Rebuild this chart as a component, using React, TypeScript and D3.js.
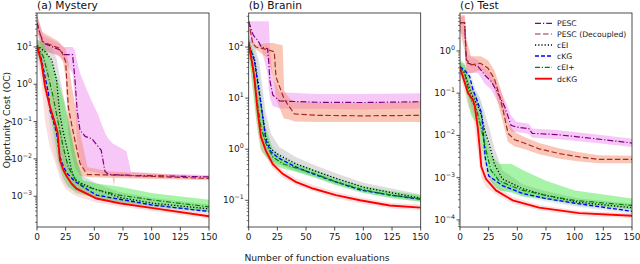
import React from "react";
import * as d3 from "d3";

// each row: [evaluations, median OC, lower band, upper band]
type Row = [number, number, number, number];

const methodNames = ["PESC", "PESC (Decoupled)", "cEI", "cKG", "cEI+", "dcKG"];
const panelTitles = ["(a) Mystery", "(b) Branin", "(c) Test"];
const evalTicks = [0, 25, 50, 75, 100, 125, 150];
const yExponents = [
  [-3, -2, -1, 0, 1],
  [-1, 0, 1, 2],
  [-4, -3, -2, -1, 0],
];
const yDomains: [number, number][] = [
  [1.5e-4, 81],
  [0.03, 464],
  [6.8e-5, 7.9],
];

// (a) Mystery
const mysteryPesc: Row[] = [
  [0, 44, 30, 70], [3, 21, 12, 35], [6, 12.5, 8, 20], [20, 8.3, 5.5, 12],
  [24, 6.2, 4, 10], [31, 6.2, 2, 10], [33, 1.5, 0.4, 8], [35, 0.2, 0.03, 4],
  [37.5, 0.059, 0.008, 2], [42, 0.04, 0.005, 0.9], [47.7, 0.035, 0.0045, 0.35],
  [53.5, 0.021, 0.0042, 0.15], [56, 0.017, 0.004, 0.09], [59.3, 0.0046, 0.0037, 0.05],
  [62, 0.0039, 0.0035, 0.035], [66, 0.0038, 0.0034, 0.026], [78, 0.0037, 0.0033, 0.016],
  [82, 0.0036, 0.0032, 0.0045], [110, 0.0035, 0.0031, 0.004], [150, 0.0033, 0.0029, 0.0037],
];
const mysteryPescD: Row[] = [
  [0, 44, 25, 75], [4.6, 14, 8, 25], [19, 9.3, 6, 14], [22.7, 6.2, 4, 10],
  [25, 4, 1.5, 9], [27.3, 0.25, 0.05, 4], [30, 0.09, 0.015, 1], [33, 0.032, 0.006, 0.3],
  [37.5, 0.0076, 0.0035, 0.05], [42, 0.0046, 0.0034, 0.012], [44, 0.0038, 0.0033, 0.006],
  [66, 0.0037, 0.0031, 0.0045], [67, 0.0037, 0.0018, 0.0045], [68, 0.0037, 0.0031, 0.0045],
  [150, 0.003, 0.0027, 0.0034],
];
const mysteryCei: Row[] = [
  [0, 11, 7, 16], [7, 7.4, 3.5, 12], [12.8, 4.5, 1.2, 9], [17, 1.3, 0.2, 5],
  [20, 0.15, 0.02, 1.5], [23, 0.05, 0.006, 0.5], [27.3, 0.014, 0.003, 0.12],
  [30, 0.005, 0.0018, 0.04], [33, 0.0028, 0.0015, 0.012], [40, 0.0021, 0.0012, 0.0035],
  [52, 0.0015, 0.001, 0.0022], [72, 0.00093, 0.0007, 0.0013], [101, 0.00065, 0.0005, 0.0009],
  [150, 0.00046, 0.00037, 0.0006],
];
const mysteryCkg: Row[] = [
  [0, 11, 7, 16], [4, 4.5, 2, 9], [7, 1.6, 0.6, 4], [10, 0.57, 0.15, 2],
  [11.3, 0.2, 0.06, 1], [14, 0.11, 0.02, 0.5], [17, 0.05, 0.008, 0.2],
  [20, 0.0115, 0.004, 0.05], [23, 0.0063, 0.0025, 0.02], [26, 0.0042, 0.0018, 0.01],
  [33, 0.0025, 0.0014, 0.004], [40, 0.0018, 0.0012, 0.0026], [52, 0.00107, 0.0008, 0.0014],
  [72, 0.00083, 0.00068, 0.001], [101, 0.00058, 0.00049, 0.0007], [150, 0.00039, 0.00034, 0.00046],
];
const mysteryCeiPlus: Row[] = [
  [0, 11, 7, 16], [5.5, 5.5, 2, 12], [10, 1.6, 0.3, 6], [14, 0.47, 0.06, 3],
  [18.6, 0.091, 0.008, 1.2], [23, 0.02, 0.003, 0.4], [27.3, 0.006, 0.0018, 0.1],
  [34.5, 0.0025, 0.0012, 0.01], [40, 0.0019, 0.0011, 0.0027], [52, 0.0015, 0.0009, 0.0022],
  [72, 0.00107, 0.0007, 0.0018], [101, 0.00079, 0.00055, 0.0012], [150, 0.00052, 0.00039, 0.0008],
];
const mysteryDckg: Row[] = [
  [0, 11, 6, 18], [4, 3.7, 1, 10], [7, 0.87, 0.1, 5], [11.3, 0.25, 0.02, 2],
  [15.7, 0.091, 0.008, 0.8], [18, 0.05, 0.005, 0.4], [20, 0.0093, 0.003, 0.1],
  [23, 0.005, 0.002, 0.03], [26, 0.0034, 0.0015, 0.01], [30, 0.0022, 0.0012, 0.004],
  [34.5, 0.0016, 0.001, 0.0024], [52, 0.00087, 0.00068, 0.0011], [72, 0.00065, 0.00053, 0.00078],
  [101, 0.00048, 0.0004, 0.00056], [150, 0.00029, 0.00025, 0.00034],
];

// (b) Branin
const braninPesc: Row[] = [
  [0, 316, 120, 320], [4, 170, 118, 320], [8, 135, 115, 320], [11, 100, 95, 320],
  [16.5, 93, 30, 320], [17.5, 50, 15, 320], [18.5, 22, 10, 100], [21, 11.5, 7, 25],
  [27, 8.8, 6.3, 13], [60, 8.3, 6.2, 12], [100, 8.2, 6, 12], [150, 8.5, 6.3, 12.5],
];
const braninPescD: Row[] = [
  [0, 316, 260, 330], [3.5, 118, 105, 135], [6.4, 100, 90, 112], [17, 88, 60, 120],
  [22.3, 81, 20, 120], [23.8, 26, 10, 115], [29.6, 11.5, 4.5, 110], [31, 9.5, 4, 14],
  [35.4, 6.8, 3.8, 10], [39.8, 4.9, 3.5, 8.5], [60, 4.6, 3.4, 8], [100, 4.5, 3.4, 8],
  [150, 4.6, 3.4, 8.5],
];
const braninCei: Row[] = [
  [0, 110, 80, 150], [5, 60, 30, 110], [9.3, 14, 5, 50], [12.2, 4.6, 1.5, 15],
  [15, 1.7, 0.8, 5], [19.4, 1.0, 0.6, 2], [26.7, 0.76, 0.5, 1.1], [41, 0.52, 0.38, 0.7],
  [56, 0.39, 0.3, 0.5], [76, 0.27, 0.21, 0.34], [100, 0.18, 0.15, 0.22],
  [125, 0.14, 0.12, 0.17], [150, 0.11, 0.095, 0.13],
];
const braninCkg: Row[] = [
  [0, 110, 80, 150], [4.9, 56, 30, 100], [9.3, 12.3, 5, 30], [12.2, 4.3, 1.8, 10],
  [15, 1.5, 0.8, 3], [19.4, 0.89, 0.6, 1.3], [26.7, 0.66, 0.5, 0.85], [41, 0.45, 0.37, 0.55],
  [56, 0.33, 0.28, 0.4], [76, 0.23, 0.2, 0.27], [97, 0.16, 0.14, 0.18],
  [125, 0.125, 0.11, 0.14], [150, 0.105, 0.095, 0.115],
];
const braninCeiPlus: Row[] = [
  [0, 110, 70, 150], [3.5, 40, 15, 90], [6.4, 12.3, 4, 40], [10.7, 2.7, 1.0, 8],
  [15, 1.3, 0.7, 2.5], [21, 0.71, 0.5, 1.0], [29.6, 0.52, 0.42, 0.65], [41, 0.43, 0.36, 0.52],
  [56, 0.34, 0.29, 0.4], [76, 0.23, 0.2, 0.27], [100, 0.16, 0.14, 0.19],
  [125, 0.125, 0.11, 0.15], [150, 0.107, 0.094, 0.125],
];
const braninDckg: Row[] = [
  [0, 126, 90, 170], [4.9, 26, 10, 60], [7.8, 5.6, 2, 15], [10.7, 1.74, 0.9, 3.5],
  [15, 0.93, 0.7, 1.3], [21, 0.51, 0.42, 0.62], [29.6, 0.33, 0.28, 0.39], [41, 0.23, 0.2, 0.27],
  [56, 0.17, 0.15, 0.2], [76, 0.126, 0.11, 0.145], [97, 0.1, 0.088, 0.115],
  [123, 0.079, 0.07, 0.09], [150, 0.072, 0.063, 0.083],
];

// (c) Test
const testPesc: Row[] = [
  [0, 4.7, 3, 6], [4, 4.7, 2, 7], [5.5, 0.62, 0.3, 2], [7, 0.51, 0.3, 0.8],
  [15.7, 0.43, 0.3, 0.6], [21.5, 0.27, 0.17, 0.4], [27.3, 0.19, 0.12, 0.28],
  [33, 0.1, 0.06, 0.15], [39, 0.048, 0.03, 0.07], [44.5, 0.0174, 0.012, 0.03],
  [49, 0.0158, 0.012, 0.021], [60, 0.0145, 0.011, 0.019], [63, 0.0112, 0.0088, 0.0145],
  [84, 0.0105, 0.0082, 0.0135], [119, 0.0083, 0.0066, 0.0105], [150, 0.0066, 0.0053, 0.0083],
];
const testPescD: Row[] = [
  [0, 4.7, 3, 7], [4, 4.7, 1, 7], [5.5, 0.62, 0.3, 2], [9.6, 0.47, 0.3, 0.75],
  [18, 0.51, 0.35, 0.75], [24.4, 0.39, 0.25, 0.6], [30, 0.22, 0.13, 0.35],
  [34.6, 0.083, 0.04, 0.15], [37.5, 0.04, 0.02, 0.08], [41.9, 0.0112, 0.007, 0.02],
  [47.7, 0.0079, 0.0055, 0.012], [56, 0.0066, 0.0048, 0.0092], [69, 0.0048, 0.0036, 0.0066],
  [87, 0.0037, 0.0028, 0.0049], [104, 0.0031, 0.0024, 0.004], [121, 0.0027, 0.0022, 0.0034],
  [150, 0.0027, 0.0022, 0.0033],
];
const testCei: Row[] = [
  [0, 0.43, 0.3, 0.55], [4, 0.3, 0.2, 0.45], [9.6, 0.1, 0.05, 0.2], [12.8, 0.069, 0.03, 0.12],
  [17.2, 0.04, 0.015, 0.08], [19.7, 0.023, 0.008, 0.05], [21.5, 0.0135, 0.005, 0.035],
  [25.5, 0.0063, 0.0025, 0.015], [30, 0.0021, 0.0012, 0.005], [37, 0.00093, 0.0006, 0.0015],
  [54.6, 0.00055, 0.0004, 0.0007], [75, 0.00038, 0.0003, 0.00048], [104, 0.00026, 0.00021, 0.00032],
  [150, 0.000195, 0.00016, 0.00024],
];
const testCkg: Row[] = [
  [0, 0.43, 0.3, 0.55], [4, 0.35, 0.25, 0.48], [8.4, 0.25, 0.15, 0.35], [11.3, 0.12, 0.07, 0.2],
  [14.2, 0.076, 0.04, 0.12], [18.6, 0.035, 0.015, 0.06], [20, 0.015, 0.006, 0.035],
  [22, 0.003, 0.0015, 0.01], [25, 0.0011, 0.0007, 0.002], [37, 0.00065, 0.0005, 0.0008],
  [55, 0.00042, 0.00035, 0.0005], [75, 0.00032, 0.00027, 0.00038], [104, 0.00024, 0.0002, 0.00028],
  [150, 0.00016, 0.00014, 0.00019],
];
const testCeiPlus: Row[] = [
  [0, 0.43, 0.3, 0.6], [4, 0.3, 0.15, 0.5], [9.6, 0.069, 0.03, 0.15], [14, 0.045, 0.02, 0.09],
  [18.3, 0.016, 0.006, 0.04], [22.7, 0.0044, 0.002, 0.01], [27, 0.0015, 0.0008, 0.0035],
  [34, 0.00085, 0.0005, 0.0021], [45, 0.00063, 0.00045, 0.0021], [55, 0.0005, 0.00036, 0.0015],
  [75, 0.00038, 0.00031, 0.00085], [100, 0.00029, 0.00024, 0.0005], [150, 0.00022, 0.00018, 0.00032],
];
const testDckg: Row[] = [
  [0, 0.41, 0.28, 0.55], [7, 0.1, 0.05, 0.2], [11.3, 0.069, 0.03, 0.13], [12.8, 0.052, 0.015, 0.11],
  [15.5, 0.015, 0.004, 0.06], [17.2, 0.005, 0.0018, 0.03], [18.6, 0.0018, 0.001, 0.008],
  [22.7, 0.00093, 0.0006, 0.0016], [31.4, 0.0005, 0.0004, 0.00065], [46, 0.00029, 0.00024, 0.00035],
  [69, 0.000195, 0.00017, 0.00023], [104, 0.000145, 0.000125, 0.000165], [150, 0.000126, 0.00011, 0.000143],
];

const panelSeries = [
  [mysteryPesc, mysteryPescD, mysteryCei, mysteryCkg, mysteryCeiPlus, mysteryDckg],
  [braninPesc, braninPescD, braninCei, braninCkg, braninCeiPlus, braninDckg],
  [testPesc, testPescD, testCei, testCkg, testCeiPlus, testDckg],
];

// line / band styles per method
const styles = [
  { stroke: "#800080", dash: "6,2,1.2,2", width: 1.2, band: "#ee82ee", bandOpacity: 0.45 },
  { stroke: "#a52a2a", dash: "5.5,2.5", width: 1.2, band: "#f4835f", bandOpacity: 0.45 },
  { stroke: "#000000", dash: "1.2,2", width: 1.3, band: "#a0a0a0", bandOpacity: 0.35 },
  { stroke: "#0000ff", dash: "4,2", width: 1.3, band: "#add8e6", bandOpacity: 0.35 },
  { stroke: "#008000", dash: "5,1.8,1.2,1.8", width: 1.2, band: "#22e022", bandOpacity: 0.4 },
  { stroke: "#ff0000", dash: "", width: 1.9, band: "#f08080", bandOpacity: 0.25 },
];

const W = 640;
const H = 264;
const panelLeft = [37, 248.7, 460];
const plotW = 172;
const plotTop = 13;
const plotBottom = 227;
const font = "DejaVu Sans, sans-serif";

function Panel({ idx }: { idx: number }) {
  const x0 = panelLeft[idx];
  const x = d3.scaleLinear().domain([0, 150]).range([x0, x0 + plotW]);
  const y = d3.scaleLog().domain(yDomains[idx]).range([plotBottom, plotTop]);
  const line = d3.line<Row>().x((d) => x(d[0])).y((d) => y(d[1]));
  const area = d3.area<Row>().x((d) => x(d[0])).y0((d) => y(d[2])).y1((d) => y(d[3]));
  const [lo, hi] = yDomains[idx];
  const minor: number[] = [];
  for (let e = Math.floor(Math.log10(lo)); e <= Math.ceil(Math.log10(hi)); e++) {
    for (let k = 2; k <= 9; k++) {
      const v = k * Math.pow(10, e);
      if (v >= lo && v <= hi) minor.push(v);
    }
  }
  const clipId = `clip${idx}`;
  const series = panelSeries[idx];
  return (
    <g>
      <defs>
        <clipPath id={clipId}>
          <rect x={x0} y={plotTop} width={plotW} height={plotBottom - plotTop} />
        </clipPath>
      </defs>
      <g clipPath={`url(#${clipId})`}>
        {series.map((s, i) => (
          <path key={"b" + i} d={area(s) || ""} fill={styles[i].band} fillOpacity={styles[i].bandOpacity} stroke="none" />
        ))}
        {series.map((s, i) => (
          <path
            key={"l" + i}
            d={line(s) || ""}
            fill="none"
            stroke={styles[i].stroke}
            strokeWidth={styles[i].width}
            strokeDasharray={styles[i].dash || undefined}
          />
        ))}
      </g>
      <rect x={x0} y={plotTop} width={plotW} height={plotBottom - plotTop} fill="none" stroke="#222" strokeWidth={0.8} />
      {evalTicks.map((t) => (
        <g key={t}>
          <line x1={x(t)} x2={x(t)} y1={plotBottom} y2={plotBottom + 3.5} stroke="#222" strokeWidth={0.8} />
          <text x={x(t)} y={240} fontSize={9} textAnchor="middle" fontFamily={font} fill="#222">{t}</text>
        </g>
      ))}
      {minor.map((v) => (
        <line key={v} x1={x0 - 2} x2={x0} y1={y(v)} y2={y(v)} stroke="#222" strokeWidth={0.6} />
      ))}
      {yExponents[idx].map((e) => (
        <g key={e}>
          <line x1={x0 - 3.5} x2={x0} y1={y(Math.pow(10, e))} y2={y(Math.pow(10, e))} stroke="#222" strokeWidth={0.8} />
          <text x={x0 - 5} y={y(Math.pow(10, e)) + 3} fontSize={9} textAnchor="end" fontFamily={font} fill="#222">
            10<tspan dy={-4} fontSize={6.3}>{e < 0 ? "\u2212" + -e : e}</tspan>
          </text>
        </g>
      ))}
      <text x={x0} y={8.5} fontSize={10.7} fontFamily={font} fill="#111">{panelTitles[idx]}</text>
    </g>
  );
}

function Legend() {
  const lx = 535;
  const rows = [23.3, 34, 45, 56, 67.3, 78.7];
  return (
    <g>
      {methodNames.map((name, i) => (
        <g key={name}>
          <line x1={lx} x2={lx + 17} y1={rows[i]} y2={rows[i]} stroke={styles[i].stroke}
            strokeWidth={styles[i].width} strokeDasharray={styles[i].dash || undefined} />
          <text x={lx + 22} y={rows[i] + 2.8} fontSize={7.7} fontFamily={font} fill="#222">{name}</text>
        </g>
      ))}
    </g>
  );
}

export default function App() {
  return (
    <svg width={W} height={H} style={{ position: "absolute", left: 0, top: 0, background: "#fff" }}>
      {[0, 1, 2].map((i) => (
        <Panel key={i} idx={i} />
      ))}
      <Legend />
      <text transform={`translate(9.5,${(plotTop + plotBottom) / 2}) rotate(-90)`} fontSize={9.2}
        textAnchor="middle" fontFamily={font} fill="#222">Oportunity Cost (OC)</text>
      <text x={317} y={260.5} fontSize={9.2} textAnchor="middle" fontFamily={font} fill="#222">
        Number of function evaluations
      </text>
    </svg>
  );
}
